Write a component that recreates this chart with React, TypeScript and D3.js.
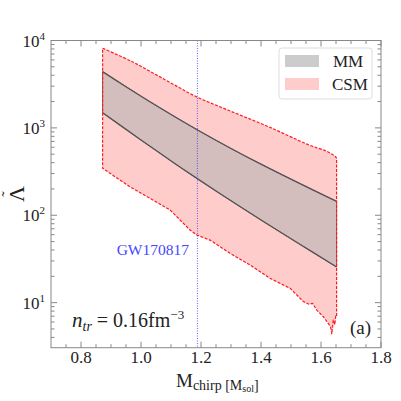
import React from "react";
import * as d3 from "d3";

// ---- data ----
const mmX = [0.872, 0.95, 1.03, 1.11, 1.19, 1.3, 1.4, 1.52, 1.652];
const mmUpper = [4400, 2960, 1990, 1358, 940, 581, 384, 239, 144];
const mmLower = [1490, 961, 615, 397, 259, 146.5, 88.3, 48.8, 25.6];

const csmUpperX = [0.872, 0.971, 1.082, 1.183, 1.293, 1.427, 1.56, 1.616, 1.637, 1.648, 1.652];
const csmUpperY = [8150, 5710, 3530, 2285, 1582, 1024, 637, 545, 500, 470, 450];

const csmLowerX = [0.872, 0.963, 1.097, 1.163, 1.186, 1.23, 1.297, 1.363, 1.43, 1.497, 1.541, 1.56, 1.572, 1.586, 1.608, 1.624, 1.632, 1.636, 1.641, 1.646, 1.649, 1.652];
const csmLowerY = [345, 212, 115, 68, 59.5, 52, 36.7, 27, 19, 14.6, 10.3, 9.6, 9.8, 8.2, 6.9, 5.8, 5.3, 4.4, 6.3, 5.6, 7.0, 6.9];

const gwChirp = 1.188;

const xMajor = [0.8, 1.0, 1.2, 1.4, 1.6, 1.8];
const xMajorLabels = ["0.8", "1.0", "1.2", "1.4", "1.6", "1.8"];
const xMinor = [0.75, 0.85, 0.9, 0.95, 1.05, 1.1, 1.15, 1.25, 1.3, 1.35, 1.45, 1.5, 1.55, 1.65, 1.7, 1.75];
const yMajor = [10, 100, 1000, 10000];
const yMajorExp = ["1", "2", "3", "4"];
const yMinor = [4, 5, 6, 7, 8, 9, 20, 30, 40, 50, 60, 70, 80, 90, 200, 300, 400, 500, 600, 700, 800, 900, 2000, 3000, 4000, 5000, 6000, 7000, 8000, 9000];

const legendLabels = ["MM", "CSM"];

export default function App() {
  const L = 51, R = 381, T = 40.5, B = 347.7;
  const x = d3.scaleLinear().domain([0.7, 1.8]).range([L, R]);
  const y = d3.scaleLog().domain([3.05, 10000]).range([B, T]);

  const smooth = d3.line().curve(d3.curveCatmullRom.alpha(0.5));
  const straight = d3.line();

  const mmU: [number, number][] = mmX.map((v, i) => [x(v), y(mmUpper[i])]);
  const mmLo: [number, number][] = mmX.map((v, i) => [x(v), y(mmLower[i])]);
  const csmU: [number, number][] = csmUpperX.map((v, i) => [x(v), y(csmUpperY[i])]);
  const csmLo: [number, number][] = csmLowerX.map((v, i) => [x(v), y(csmLowerY[i])]);

  const join = (a: string | null, b: string | null) => (a || "") + "L" + (b || "").slice(1) + "Z";
  const mmPath = join(smooth(mmU), smooth([...mmLo].reverse()));
  const csmPath = join(smooth(csmU), straight([...csmLo].reverse()));

  const font = "'Liberation Serif', 'Times New Roman', serif";
  const frame = "#888";
  const maj = 6, mnr = 3.5;

  return (
    <svg width={401} height={401} style={{ position: "absolute", left: 0, top: 0, fontFamily: font }}>
      <rect width={401} height={401} fill="white" />
      <defs>
        <clipPath id="plotclip">
          <rect x={L} y={T} width={R - L} height={B - T} />
        </clipPath>
      </defs>
      <g clipPath="url(#plotclip)">
        <path d={csmPath} fill="#ffcccc" stroke="none" />
        <path d={mmPath} fill="#d3bdbd" stroke="#5a4a4a" strokeWidth={0.8} />
        <path d={smooth(mmU) || ""} fill="none" stroke="#555" strokeWidth={1.3} />
        <path d={smooth(mmLo) || ""} fill="none" stroke="#555" strokeWidth={1.3} />
        <path d={csmPath} fill="none" stroke="#ff1a1a" strokeWidth={1.2} strokeDasharray="3,1.5" strokeLinejoin="round" />
        <line x1={x(gwChirp)} x2={x(gwChirp)} y1={T} y2={B} stroke="#3a3aff" strokeWidth={0.8} strokeDasharray="1,1.5" />
      </g>

      {/* frame */}
      <rect x={L} y={T} width={R - L} height={B - T} fill="none" stroke={frame} strokeWidth={1} />
      {xMajor.map((v) => (
        <g key={"xm" + v}>
          <line x1={x(v)} x2={x(v)} y1={B} y2={B - maj} stroke={frame} />
          <line x1={x(v)} x2={x(v)} y1={T} y2={T + maj} stroke={frame} />
        </g>
      ))}
      {xMinor.map((v) => (
        <g key={"xn" + v}>
          <line x1={x(v)} x2={x(v)} y1={B} y2={B - mnr} stroke={frame} />
          <line x1={x(v)} x2={x(v)} y1={T} y2={T + mnr} stroke={frame} />
        </g>
      ))}
      {xMajor.map((v, i) => (
        <text key={"xl" + v} x={x(v)} y={363} textAnchor="middle" fontSize={17} fill="#222">
          {xMajorLabels[i]}
        </text>
      ))}
      {yMajor.map((v) => (
        <g key={"ym" + v}>
          <line x1={L} x2={L + maj} y1={y(v)} y2={y(v)} stroke={frame} />
          <line x1={R} x2={R - maj} y1={y(v)} y2={y(v)} stroke={frame} />
        </g>
      ))}
      {yMinor.map((v) => (
        <g key={"yn" + v}>
          <line x1={L} x2={L + mnr} y1={y(v)} y2={y(v)} stroke={frame} />
          <line x1={R} x2={R - mnr} y1={y(v)} y2={y(v)} stroke={frame} />
        </g>
      ))}
      {yMajor.map((v, i) => (
        <text key={"yl" + v} x={45} y={y(v) + 6} textAnchor="end" fontSize={17} fill="#222">
          10
          <tspan dy={-7} fontSize={11}>{yMajorExp[i]}</tspan>
        </text>
      ))}

      {/* axis labels */}
      <text x={176} y={387} fontSize={19} fill="#222">
        M
        <tspan dy={3} fontSize={14}>chirp [M</tspan>
        <tspan dy={2} fontSize={10}>sol</tspan>
        <tspan dy={-2} fontSize={14}>]</tspan>
      </text>
      <g transform="translate(17,194) rotate(-90)">
        <text x={0} y={7} textAnchor="middle" fontSize={22} fill="#222">Λ</text>
        <text x={0} y={-4} textAnchor="middle" fontSize={16} fill="#222">˜</text>
      </g>

      {/* annotations */}
      <text x={189} y={255} textAnchor="end" fontSize={15.5} fill="#4646ff">GW170817</text>
      <text x={72} y={327} fontSize={20} fill="#222">
        <tspan fontStyle="italic" fontSize={21}>n</tspan>
        <tspan fontStyle="italic" fontSize={14} dy={4}>tr</tspan>
        <tspan dy={-4}>{" = 0.16fm"}</tspan>
        <tspan dy={-8} fontSize={13}>−3</tspan>
      </text>
      <text x={350} y={334} fontSize={19} fill="#222">(a)</text>

      {/* legend */}
      <rect x={279} y={48} width={93} height={51} rx={3} fill="white" fillOpacity={0.8} stroke="#dddddd" strokeWidth={1} />
      <rect x={285} y={55} width={34} height={12} fill="#cccccc" />
      <rect x={285} y={78} width={34} height={12} fill="#ffcccc" />
      <text x={333} y={67} fontSize={17} fill="#222">{legendLabels[0]}</text>
      <text x={332} y={90} fontSize={17} fill="#222">{legendLabels[1]}</text>
    </svg>
  );
}
